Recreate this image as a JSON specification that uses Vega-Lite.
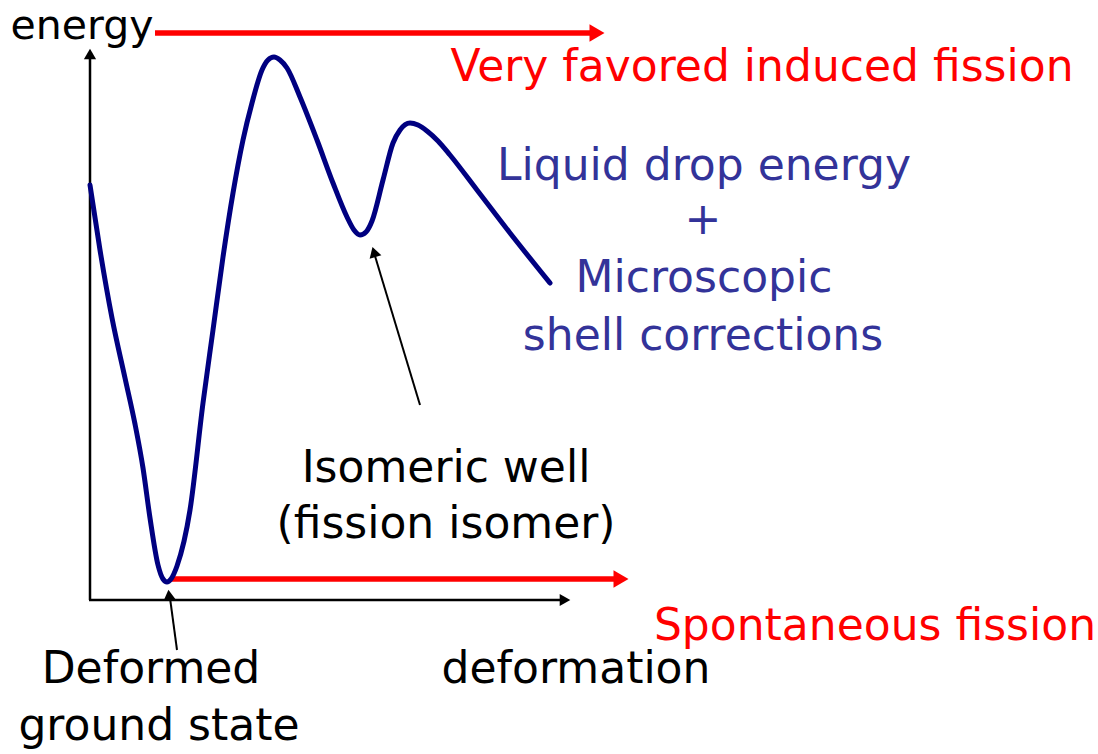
{
  "$schema": "https://vega.github.io/schema/vega-lite/v6.json",
  "width": 1098,
  "height": 754,
  "autosize": {"type": "fit", "contains": "padding"},
  "padding": 0,
  "background": "white",
  "config": {"view": {"stroke": null}},
  "datasets": {
    "curve": [
      {"x": 90, "y": 185}, {"x": 100, "y": 250}, {"x": 112, "y": 318}, {"x": 125, "y": 378},
      {"x": 135, "y": 424}, {"x": 143, "y": 468}, {"x": 150, "y": 518}, {"x": 158, "y": 565},
      {"x": 163, "y": 579}, {"x": 167, "y": 582}, {"x": 171, "y": 579}, {"x": 177, "y": 566},
      {"x": 190, "y": 510}, {"x": 203, "y": 403}, {"x": 213, "y": 330}, {"x": 223, "y": 257},
      {"x": 233, "y": 193}, {"x": 243, "y": 140}, {"x": 252, "y": 103}, {"x": 262, "y": 70},
      {"x": 268, "y": 60}, {"x": 274, "y": 57}, {"x": 280, "y": 60}, {"x": 287, "y": 68},
      {"x": 300, "y": 97}, {"x": 317, "y": 140}, {"x": 333, "y": 183}, {"x": 347, "y": 217},
      {"x": 354, "y": 230}, {"x": 360, "y": 235}, {"x": 366, "y": 232}, {"x": 372, "y": 221},
      {"x": 383, "y": 180}, {"x": 393, "y": 143}, {"x": 400, "y": 130}, {"x": 410, "y": 123},
      {"x": 418, "y": 125}, {"x": 427, "y": 131}, {"x": 438, "y": 141}, {"x": 450, "y": 155},
      {"x": 477, "y": 190}, {"x": 510, "y": 233}, {"x": 550, "y": 283}
    ],
    "segments": [
      {"kind": "axis", "x": 90, "y": 600, "x2": 90, "y2": 56},
      {"kind": "axis", "x": 89, "y": 600, "x2": 564, "y2": 600},
      {"kind": "red", "x": 155, "y": 33, "x2": 596, "y2": 33},
      {"kind": "red", "x": 170, "y": 579, "x2": 620, "y2": 579},
      {"kind": "pointer", "x": 420, "y": 405, "x2": 375, "y2": 256},
      {"kind": "pointer", "x": 177, "y": 650, "x2": 170, "y2": 598}
    ],
    "heads": [
      {"kind": "axis", "x": 90, "y": 54, "heading": 0},
      {"kind": "axis", "x": 565, "y": 600, "heading": 90},
      {"kind": "red", "x": 597, "y": 33, "heading": 90},
      {"kind": "red", "x": 621, "y": 579, "heading": 90},
      {"kind": "axis", "x": 374, "y": 252, "heading": -16.7},
      {"kind": "axis", "x": 169, "y": 595, "heading": -6.4}
    ],
    "labels": [
      {"kind": "title", "text": "energy", "x": 82, "y": 39},
      {"kind": "red", "text": "Very favored induced fission", "x": 762, "y": 81},
      {"kind": "blue", "text": "Liquid drop energy", "x": 704, "y": 180},
      {"kind": "blue", "text": "+", "x": 703, "y": 234},
      {"kind": "blue", "text": "Microscopic", "x": 704, "y": 292},
      {"kind": "blue", "text": "shell corrections", "x": 703, "y": 350},
      {"kind": "black", "text": "Isomeric well", "x": 446, "y": 482},
      {"kind": "black", "text": "(fission isomer)", "x": 446, "y": 538},
      {"kind": "red", "text": "Spontaneous fission", "x": 875, "y": 640},
      {"kind": "black", "text": "deformation", "x": 576, "y": 683},
      {"kind": "black", "text": "Deformed", "x": 151, "y": 683},
      {"kind": "black", "text": "ground state", "x": 159, "y": 740}
    ]
  },
  "layer": [
    {
      "data": {"name": "segments"},
      "transform": [{"filter": "datum.kind === 'axis'"}],
      "mark": {"type": "rule", "color": "black", "strokeWidth": 2.5},
      "encoding": {
        "x": {"field": "x", "type": "quantitative", "scale": {"domain": [0, 1098], "nice": false, "zero": false}, "axis": null},
        "y": {"field": "y", "type": "quantitative", "scale": {"domain": [0, 754], "reverse": true, "nice": false, "zero": false}, "axis": null},
        "x2": {"field": "x2"},
        "y2": {"field": "y2"}
      }
    },
    {
      "data": {"name": "segments"},
      "transform": [{"filter": "datum.kind === 'pointer'"}],
      "mark": {"type": "rule", "color": "black", "strokeWidth": 2},
      "encoding": {
        "x": {"field": "x", "type": "quantitative", "axis": null},
        "y": {"field": "y", "type": "quantitative", "axis": null},
        "x2": {"field": "x2"},
        "y2": {"field": "y2"}
      }
    },
    {
      "data": {"name": "segments"},
      "transform": [{"filter": "datum.kind === 'red'"}],
      "mark": {"type": "rule", "color": "#ff0000", "strokeWidth": 5.5},
      "encoding": {
        "x": {"field": "x", "type": "quantitative", "axis": null},
        "y": {"field": "y", "type": "quantitative", "axis": null},
        "x2": {"field": "x2"},
        "y2": {"field": "y2"}
      }
    },
    {
      "data": {"name": "curve"},
      "mark": {"type": "line", "color": "#000080", "strokeWidth": 5, "interpolate": "monotone", "strokeCap": "round"},
      "encoding": {
        "x": {"field": "x", "type": "quantitative", "axis": null},
        "y": {"field": "y", "type": "quantitative", "axis": null},
        "order": {"field": "x"}
      }
    },
    {
      "data": {"name": "heads"},
      "transform": [{"filter": "datum.kind === 'axis'"}],
      "mark": {"type": "point", "shape": "triangle-up", "filled": true, "color": "black", "opacity": 1, "size": 150},
      "encoding": {
        "x": {"field": "x", "type": "quantitative", "axis": null},
        "y": {"field": "y", "type": "quantitative", "axis": null},
        "angle": {"field": "heading", "type": "quantitative", "scale": null}
      }
    },
    {
      "data": {"name": "heads"},
      "transform": [{"filter": "datum.kind === 'red'"}],
      "mark": {"type": "point", "shape": "triangle-up", "filled": true, "color": "#ff0000", "opacity": 1, "size": 300},
      "encoding": {
        "x": {"field": "x", "type": "quantitative", "axis": null},
        "y": {"field": "y", "type": "quantitative", "axis": null},
        "angle": {"field": "heading", "type": "quantitative", "scale": null}
      }
    },
    {
      "data": {"name": "labels"},
      "transform": [{"filter": "datum.kind === 'title'"}],
      "mark": {"type": "text", "color": "black", "font": "DejaVu Sans", "fontSize": 41, "align": "center", "baseline": "alphabetic"},
      "encoding": {
        "x": {"field": "x", "type": "quantitative", "axis": null},
        "y": {"field": "y", "type": "quantitative", "axis": null},
        "text": {"field": "text"}
      }
    },
    {
      "data": {"name": "labels"},
      "transform": [{"filter": "datum.kind === 'black'"}],
      "mark": {"type": "text", "color": "black", "font": "DejaVu Sans", "fontSize": 44, "align": "center", "baseline": "alphabetic"},
      "encoding": {
        "x": {"field": "x", "type": "quantitative", "axis": null},
        "y": {"field": "y", "type": "quantitative", "axis": null},
        "text": {"field": "text"}
      }
    },
    {
      "data": {"name": "labels"},
      "transform": [{"filter": "datum.kind === 'red'"}],
      "mark": {"type": "text", "color": "#ff0000", "font": "DejaVu Sans", "fontSize": 44, "align": "center", "baseline": "alphabetic"},
      "encoding": {
        "x": {"field": "x", "type": "quantitative", "axis": null},
        "y": {"field": "y", "type": "quantitative", "axis": null},
        "text": {"field": "text"}
      }
    },
    {
      "data": {"name": "labels"},
      "transform": [{"filter": "datum.kind === 'blue'"}],
      "mark": {"type": "text", "color": "#333399", "font": "DejaVu Sans", "fontSize": 44, "align": "center", "baseline": "alphabetic"},
      "encoding": {
        "x": {"field": "x", "type": "quantitative", "axis": null},
        "y": {"field": "y", "type": "quantitative", "axis": null},
        "text": {"field": "text"}
      }
    }
  ]
}
